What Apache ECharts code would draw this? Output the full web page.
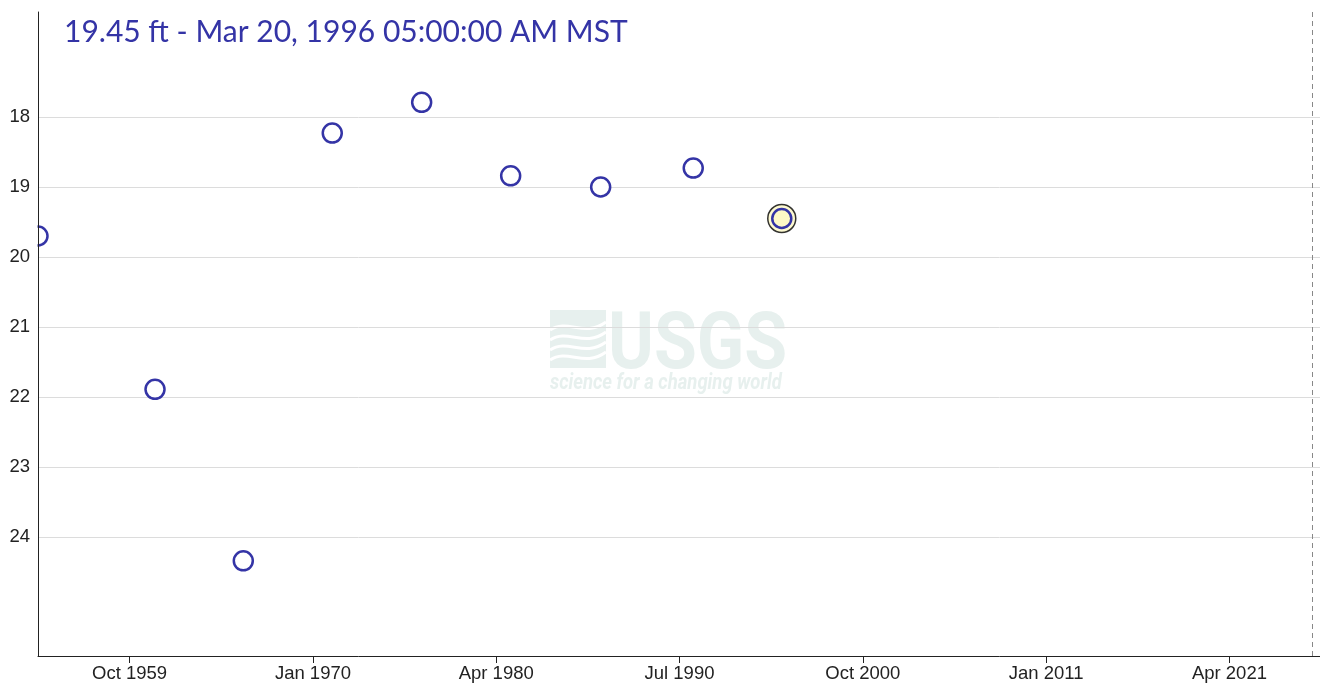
<!DOCTYPE html>
<html lang="en">
<head>
    <meta charset="UTF-8">
    <title>Groundwater level</title>
    <script src="https://cdn.jsdelivr.net/npm/echarts@6/dist/echarts.min.js"></script>
    <style>
        html, body { margin: 0; padding: 0; background: #fff; }
    </style>
</head>
<body>
    <div id="main" style="width:1320px;height:684px;"></div>
    <script type="text/javascript">
        // depth to water (ft below land surface), one reading every ~5 years
        var obsDates = ['1954-08-17', '1961-03-03', '1966-02-08', '1971-01-30', '1976-01-30',
                        '1981-01-21', '1986-02-02', '1991-04-08', '1996-03-20'];
        var obsDepths = [19.70, 21.89, 24.34, 18.23, 17.79, 18.84, 19.00, 18.73, 19.45];
        var selectedDate = '1996-03-20';

        var xTickDates = ['1959-10-01', '1970-01-01', '1980-04-01', '1990-07-01',
                          '2000-10-01', '2011-01-01', '2021-04-01'];
        var xTickLabels = ['Oct 1959', 'Jan 1970', 'Apr 1980', 'Jul 1990',
                           'Oct 2000', 'Jan 2011', 'Apr 2021'];
        var yTicks = [18, 19, 20, 21, 22, 23, 24];
        var todayDate = '2025-11-25';

        var blue = '#3434a6';
        var wm = '#e7f0ee';

        // dates as day numbers (value axis), avoids time-axis tick levels
        function ts(s) {
            var p = s.split('-');
            return Date.UTC(+p[0], +p[1] - 1, +p[2]) / 86400000;
        }
        var xTickValues = xTickDates.map(ts);

        var mainData = [];
        var selData = [];
        for (var i = 0; i < obsDates.length; i++) {
            var item = { value: [ts(obsDates[i]), obsDepths[i]] };
            if (obsDates[i] === selectedDate) {
                item.itemStyle = { color: '#fdf8c6' };
                selData.push([ts(obsDates[i]), obsDepths[i]]);
            }
            mainData.push(item);
        }
        var sel = obsDepths[obsDates.indexOf(selectedDate)];

        function wave(y) {
            return { type: 'bezierCurve', shape: { x1: 0, y1: y, cpx1: 18, cpy1: y - 12, cpx2: 34, cpy2: y + 8, x2: 56, y2: y - 8 },
                     style: { stroke: '#fff', lineWidth: 3, fill: null } };
        }

        var yBase = {
            type: 'value',
            inverse: true,
            min: 16.5,
            max: 25.7,
            position: 'left'
        };

        var chart = echarts.init(document.getElementById('main'));
        var option = {
            backgroundColor: '#fff',
            animation: false,
            title: {
                left: 59,
                top: 12,
                text: sel.toFixed(2) + ' ft - Mar 20, 1996 05:00:00 AM MST',
                textStyle: { color: blue, fontSize: 30, fontWeight: 'normal', fontFamily: 'Lato' }
            },
            grid: { left: 38, right: 0, top: 12, bottom: 28 },
            graphic: {
                elements: [{
                    type: 'group',
                    x: 550,
                    y: 308,
                    z: -5,
                    silent: true,
                    children: [
                        { type: 'rect', shape: { x: 0, y: 2, width: 56, height: 58 }, style: { fill: wm } },
                        wave(22), wave(32), wave(42), wave(52),
                        { type: 'text', x: 58, y: 0, scaleX: 0.87, style: { text: 'USGS', fill: wm, font: 'bold 80px Roboto' } },
                        { type: 'text', x: 0, y: 64, scaleX: 0.84, style: { text: 'science for a changing world', fill: wm, font: 'italic bold 22px Roboto' } }
                    ]
                }, {
                    // hides the part of a marker that falls left of the y axis
                    type: 'rect',
                    z: 10,
                    silent: true,
                    shape: { x: 0, y: 0, width: 37.5, height: 660 },
                    style: { fill: '#fff' }
                }]
            },
            xAxis: {
                type: 'value',
                min: ts(obsDates[0]),
                max: ts('2026-04-25'),
                z: 20,
                axisLine: { onZero: false, lineStyle: { color: '#222', width: 1 } },
                axisTick: { show: true, length: 7, customValues: xTickValues, lineStyle: { color: '#222' } },
                axisLabel: {
                    customValues: xTickValues,
                    color: '#222',
                    fontSize: 18.5,
                    fontFamily: 'Liberation Sans',
                    margin: 8,
                    formatter: function (v) {
                        var k = xTickValues.indexOf(v);
                        return k >= 0 ? xTickLabels[k] : '';
                    }
                },
                splitLine: { show: false }
            },
            yAxis: [
                // grid lines, under the markers
                Object.assign({}, yBase, {
                    z: 0,
                    axisLine: { show: false },
                    axisTick: { show: false, customValues: yTicks },
                    axisLabel: { show: false, customValues: yTicks },
                    splitLine: { show: true, lineStyle: { color: '#dcdcdc', width: 1 } }
                }),
                // axis line and labels, above the mask
                Object.assign({}, yBase, {
                    z: 20,
                    axisLine: { show: true, onZero: false, lineStyle: { color: '#222', width: 1 } },
                    axisTick: { show: false, customValues: yTicks },
                    axisLabel: { customValues: yTicks, color: '#222', fontSize: 18.5, fontFamily: 'Liberation Sans', margin: 8 },
                    splitLine: { show: false }
                })
            ],
            series: [
                {
                    name: 'selected',
                    type: 'scatter',
                    symbol: 'circle',
                    symbolSize: 28,
                    z: 2,
                    itemStyle: { color: '#fdf8c6', borderColor: '#000', borderWidth: 1.5 },
                    data: selData,
                    silent: true
                },
                {
                    name: 'Depth to water level',
                    type: 'scatter',
                    symbol: 'circle',
                    symbolSize: 19,
                    z: 3,
                    itemStyle: { color: '#fff', borderColor: blue, borderWidth: 2.5, opacity: 1 },
                    data: mainData,
                    markLine: {
                        silent: true,
                        symbol: ['none', 'none'],
                        label: { show: false },
                        lineStyle: { color: '#888', type: [5, 4], width: 1 },
                        data: [{ xAxis: ts(todayDate) }]
                    }
                }
            ]
        };
        chart.setOption(option);
    </script>
</body>
</html>
